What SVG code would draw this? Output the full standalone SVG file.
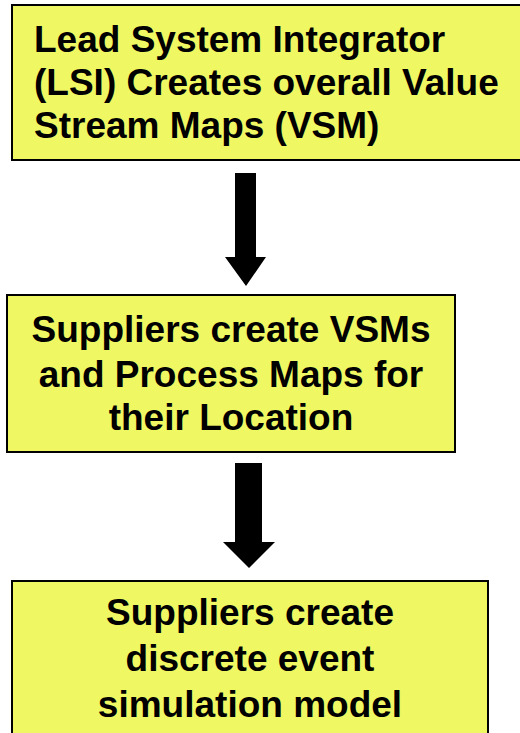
<svg xmlns="http://www.w3.org/2000/svg" width="520" height="733" viewBox="0 0 520 733">
<style>
.box{fill:#EFF763;stroke:#000;stroke-width:2}
.t{font-family:"Liberation Sans",Arial,sans-serif;font-weight:bold;font-size:37px;fill:#000}
.arrow{fill:#000}
</style>
<rect width="520" height="733" fill="#fff"/>
<g id="node1">
<rect class="box" x="12" y="5" width="510" height="155"/>
<text class="t" x="34"><tspan x="34" y="52">Lead System Integrator</tspan><tspan x="34" y="95">(LSI) Creates overall Value</tspan><tspan x="34" y="138">Stream Maps (VSM)</tspan></text>
</g>
<g id="node2">
<rect class="box" x="7" y="295" width="448" height="157"/>
<text class="t" text-anchor="middle"><tspan x="231" y="342">Suppliers create VSMs</tspan><tspan x="231" y="387">and Process Maps for</tspan><tspan x="231" y="430">their Location</tspan></text>
</g>
<g id="node3">
<rect class="box" x="12" y="581" width="476" height="160"/>
<text class="t" text-anchor="middle"><tspan x="250" y="625">Suppliers create</tspan><tspan x="250" y="671">discrete event</tspan><tspan x="250" y="717">simulation model</tspan></text>
</g>
<g id="connectors">
<polygon class="arrow" points="235,173 256,173 256,257 266,257 246,286 225,257 235,257"/>
<polygon class="arrow" points="235,463 262,463 262,542 275,542 249,568 223,542 235,542"/>
</g>
</svg>
